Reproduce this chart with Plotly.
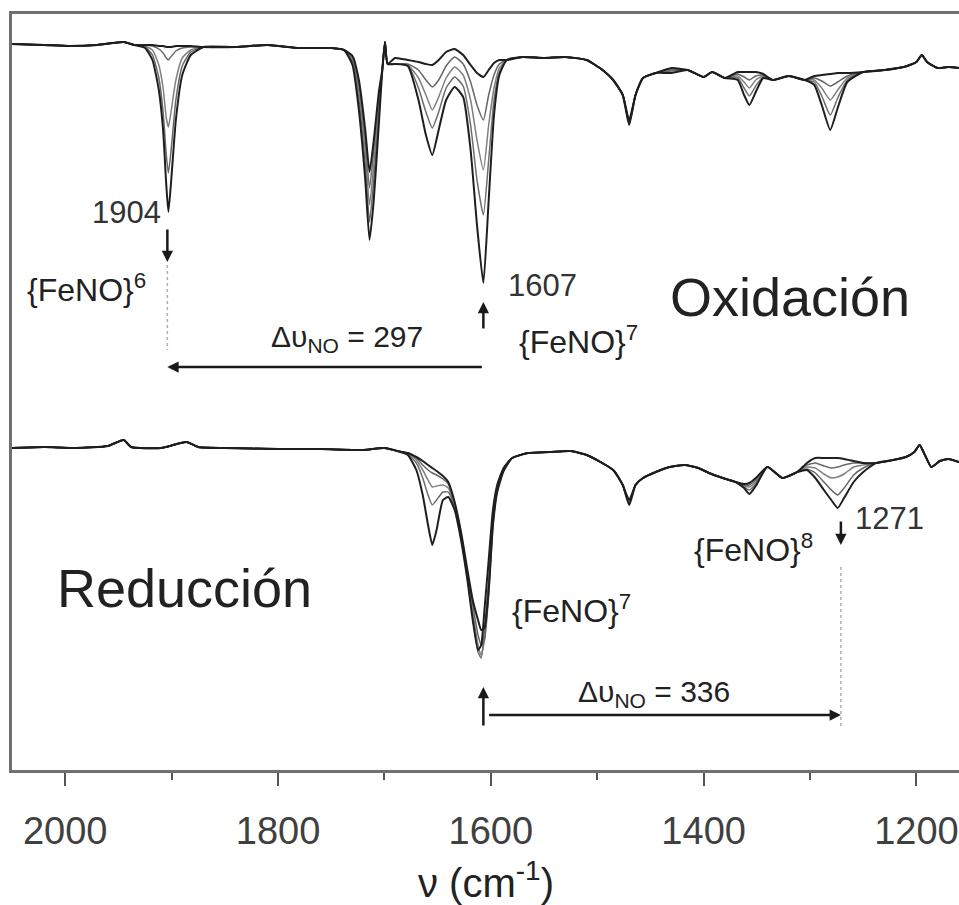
import plotly.graph_objects as go

# ---------------- data (wavenumber in cm-1, transmittance in arbitrary units) -------------
PEAK_FENO6 = 1904
PEAK_FENO7 = 1607
PEAK_FENO8 = 1271

wn_top = [2050, 2020, 1995, 1970, 1945, 1935,
          1925, 1918, 1912, 1908, 1905, 1903, 1900, 1896, 1890, 1882,
          1870, 1840, 1810, 1780, 1750, 1738,
          1730, 1724, 1718, 1714, 1710, 1705,
          1702, 1699.5, 1697,
          1690, 1678, 1668, 1661, 1655, 1649, 1642, 1634, 1626, 1619, 1613, 1607, 1602, 1597, 1592,
          1585, 1570, 1550, 1530, 1510, 1495, 1485, 1476, 1470, 1464, 1457, 1445, 1430, 1415, 1400, 1392, 1380,
          1368, 1362, 1357, 1351, 1344,
          1335, 1320, 1305,
          1296, 1289, 1281, 1274, 1265,
          1250, 1230, 1212, 1200, 1195, 1190, 1180, 1170, 1160]

ox_0 = [726, 725, 724, 725, 728, 725,
        725, 725, 724, 724, 723, 723, 723, 724, 724, 724,
        723, 723, 725, 722, 722, 720,
        714, 690, 640, 598, 630, 680,
        700, 728, 706,
        706, 704, 670, 635, 615, 640, 670, 683, 673, 620, 545, 487, 570, 655, 695,
        710, 713, 712, 713, 710, 700, 690, 675, 645, 675, 692, 697, 702, 700, 693, 698, 692,
        690, 675, 665, 678, 692,
        690, 694, 690,
        685, 665, 640, 662, 688,
        698, 700, 703, 708, 715, 708, 702, 703, 702]
ox_1 = [726, 725, 724, 725, 728, 725,
        725, 724, 721, 717, 712, 710, 714, 719, 722, 723,
        723, 723, 725, 722, 722, 720,
        712, 685, 630, 582, 620, 675,
        700, 728, 706,
        706, 705, 682, 658, 642, 658, 682, 693, 684, 645, 590, 555, 610, 670, 698,
        710, 713, 712, 713, 710, 700, 690, 675, 646, 675, 692, 697, 701, 700, 693, 698, 692,
        692, 682, 674, 684, 693,
        690, 694, 690,
        688, 674, 655, 672, 690,
        698, 700, 703, 708, 715, 708, 702, 703, 702]
ox_2 = [726, 725, 724, 725, 728, 725,
        724, 720, 705, 682, 652, 643, 662, 690, 712, 720,
        723, 723, 725, 722, 722, 720,
        710, 678, 620, 565, 605, 670,
        700, 728, 706,
        706, 705, 692, 675, 660, 673, 692, 703, 695, 670, 630, 600, 645, 682, 702,
        710, 713, 712, 713, 710, 700, 690, 675, 647, 675, 692, 697, 700, 700, 693, 698, 692,
        694, 688, 682, 690, 694,
        690, 694, 690,
        690, 682, 670, 680, 692,
        698, 700, 703, 708, 715, 708, 702, 703, 702]
ox_3 = [726, 725, 724, 725, 728, 725,
        723, 715, 692, 658, 615, 597, 625, 670, 704, 718,
        723, 723, 725, 722, 722, 720,
        708, 670, 605, 548, 590, 660,
        700, 728, 706,
        706, 706, 700, 690, 683, 690, 704, 713, 706, 688, 665, 650, 675, 695, 706,
        710, 713, 712, 713, 710, 700, 690, 675, 648, 675, 692, 697, 699, 700, 693, 698, 692,
        696, 693, 690, 694, 695,
        690, 694, 690,
        692, 689, 684, 688, 694,
        698, 700, 703, 708, 715, 708, 702, 703, 702]
ox_4 = [726, 725, 724, 725, 728, 725,
        722, 710, 680, 640, 585, 558, 595, 650, 695, 715,
        723, 723, 725, 722, 722, 720,
        705, 660, 590, 530, 570, 650,
        700, 728, 706,
        712, 710, 708, 706, 705, 710, 718, 721, 715, 705, 697, 693, 700, 707, 710,
        710, 713, 712, 713, 710, 700, 690, 675, 650, 675, 692, 697, 697, 700, 693, 698, 692,
        698, 698, 698, 698, 696,
        690, 694, 690,
        694, 695, 696, 697, 697,
        698, 700, 703, 708, 715, 708, 702, 703, 702]

wn_bot = [2050, 2020, 1990, 1960, 1945, 1938, 1910, 1886, 1875, 1850, 1800, 1760, 1720, 1700, 1688,
          1678, 1670, 1664, 1659, 1655, 1651, 1645, 1640, 1634, 1628, 1622, 1617, 1612, 1609, 1606,
          1602, 1598, 1594, 1588,
          1580, 1565, 1545, 1525, 1510, 1497, 1485, 1476, 1470, 1464, 1457, 1445, 1432, 1418, 1405,
          1395, 1382,
          1370, 1362, 1357, 1351, 1340, 1326, 1312,
          1303, 1295, 1287, 1280, 1274, 1268, 1259, 1250,
          1238, 1222, 1210, 1202, 1197, 1192, 1186, 1178, 1170, 1160]

red_0 = [322, 323, 322, 324, 330, 323, 322, 328, 323, 322, 321, 321, 320, 322, 319,
         315, 300, 275, 245, 225, 240, 270, 273, 260, 230, 190, 150, 120, 125, 160, 210, 260, 285, 302,
         312, 317, 318, 319, 315, 308, 300, 285, 270, 285, 292, 298, 303, 305, 302, 297, 292,
         288, 282, 276, 284, 303, 292, 298,
         307, 312, 312, 312, 312, 311, 309, 307,
         307, 310, 313, 318, 325, 315, 303, 309, 311, 308]
red_1 = [322, 323, 322, 324, 330, 323, 322, 328, 323, 322, 321, 321, 320, 322, 319,
         316, 307, 292, 275, 265, 270, 278, 278, 262, 232, 192, 152, 118, 112, 140, 190, 255, 283, 301,
         312, 317, 318, 319, 315, 308, 300, 285, 268, 285, 292, 298, 303, 305, 302, 297, 292,
         288, 283, 280, 286, 303, 292, 298,
         305, 307, 304, 302, 303, 305, 307, 307,
         307, 310, 313, 318, 325, 315, 303, 309, 311, 308]
red_2 = [322, 323, 322, 324, 330, 323, 322, 328, 323, 322, 321, 321, 320, 322, 319,
         317, 310, 300, 290, 283, 284, 285, 282, 264, 234, 195, 158, 125, 115, 130, 180, 250, 281, 300,
         312, 317, 318, 319, 315, 308, 300, 285, 267, 285, 292, 298, 303, 305, 302, 297, 292,
         288, 284, 283, 288, 303, 292, 298,
         303, 302, 296, 292, 293, 296, 303, 305,
         307, 310, 313, 318, 325, 315, 303, 309, 311, 308]
red_3 = [322, 323, 322, 324, 330, 323, 322, 328, 323, 322, 321, 321, 320, 322, 319,
         317, 312, 305, 300, 297, 295, 291, 286, 266, 236, 198, 165, 135, 125, 130, 175, 245, 279, 300,
         312, 317, 318, 319, 315, 308, 300, 285, 266, 285, 292, 298, 303, 305, 302, 297, 292,
         288, 285, 285, 290, 303, 292, 298,
         301, 297, 288, 280, 275, 282, 295, 302,
         307, 310, 313, 318, 325, 315, 303, 309, 311, 308]
red_4 = [322, 323, 322, 324, 330, 323, 322, 328, 323, 322, 321, 321, 320, 322, 319,
         317, 313, 309, 305, 302, 299, 294, 288, 268, 238, 200, 170, 150, 140, 142, 180, 245, 278, 299,
         312, 317, 318, 319, 315, 308, 300, 285, 265, 285, 292, 298, 303, 305, 302, 297, 292,
         288, 286, 287, 292, 303, 292, 298,
         300, 292, 280, 270, 262, 272, 288, 298,
         307, 310, 313, 318, 325, 315, 303, 309, 311, 308]

tick_vals = [2000, 1800, 1600, 1400, 1200]
tick_text = ["2000", "1800", "1600", "1400", "1200"]

for s in (ox_0, ox_1, ox_2, ox_3, ox_4):
    assert len(s) == len(wn_top), len(s)
for s in (red_0, red_1, red_2, red_3, red_4):
    assert len(s) == len(wn_bot), len(s)

# ---------------- figure -------------
FONT = "Liberation Sans, Arial, sans-serif"
line_colors = ["#1e1e1e", "#6c6c6c", "#808080", "#666666", "#1e1e1e"]

fig = go.Figure()

order = [2, 1, 3, 0, 4]
for wn, series in ((wn_top, [ox_0, ox_1, ox_2, ox_3, ox_4]),
                   (wn_bot, [red_0, red_1, red_2, red_3, red_4])):
    for i in order:
        fig.add_trace(go.Scatter(
            x=wn, y=series[i], mode="lines",
            line=dict(color=line_colors[i], width=2.0 if i in (0, 4) else 1.5,
                      shape="spline", smoothing=0.5),
            hoverinfo="skip", showlegend=False))

# dotted guide lines
fig.add_trace(go.Scatter(x=[PEAK_FENO6, PEAK_FENO6], y=[505, 420], mode="lines",
                         line=dict(color="#b0b0b0", width=1.5, dash="dot"),
                         hoverinfo="skip", showlegend=False))
fig.add_trace(go.Scatter(x=[PEAK_FENO8, PEAK_FENO8], y=[203, 43], mode="lines",
                         line=dict(color="#b0b0b0", width=1.5, dash="dot"),
                         hoverinfo="skip", showlegend=False))

ann = []

def label(x, y, text, size, xanchor="left", color="#222222"):
    ann.append(dict(x=x, y=y, xref="x", yref="y", text=text, showarrow=False,
                    xanchor=xanchor, yanchor="middle",
                    font=dict(family=FONT, size=size, color=color)))

def arrow(x, y, ax, ay):
    ann.append(dict(x=x, y=y, ax=ax, ay=ay, xref="x", yref="y", axref="x", ayref="y",
                    text="", showarrow=True, arrowhead=2, arrowsize=0.9,
                    arrowwidth=2.5, arrowcolor="#1a1a1a", standoff=0, startstandoff=0))

label(1908, 558, "1904", 31, "right", "#333333")
label(2038, 482, "{FeNO}<sup>6</sup>", 32)
label(1735, 432, "Δυ<sub>NO</sub> = %d" % (PEAK_FENO6 - PEAK_FENO7), 30, "center")
label(1586, 485, "1607", 31, "left", "#333333")
label(1575, 430, "{FeNO}<sup>7</sup>", 32)
label(1433.5, 473, "Oxidación", 54)
label(2009.6, 182, "Reducción", 54)
label(1582, 161, "{FeNO}<sup>7</sup>", 32)
label(1411, 222, "{FeNO}<sup>8</sup>", 32)
label(1259.6, 252, "1271", 31, "left", "#333333")
label(1446.6, 77, "Δυ<sub>NO</sub> = %d" % (PEAK_FENO7 - PEAK_FENO8), 30, "center")

arrow(PEAK_FENO6, 508, PEAK_FENO6, 542)
arrow(PEAK_FENO6, 403, PEAK_FENO7, 403)
arrow(PEAK_FENO7, 468, PEAK_FENO7, 440)
arrow(PEAK_FENO7, 83, PEAK_FENO7, 43)
arrow(PEAK_FENO8, 55, PEAK_FENO7 - 4, 55)
arrow(PEAK_FENO8, 225, PEAK_FENO8, 250)

# axis title
ann.append(dict(x=0.5, y=-0.1455, xref="paper", yref="paper", showarrow=False,
                text="ν (cm<sup>-1</sup>)", xanchor="center", yanchor="middle",
                font=dict(family=FONT, size=40, color="#222222")))

fig.update_layout(
    width=959, height=905,
    margin=dict(l=12, r=0, t=14, b=135),
    paper_bgcolor="white", plot_bgcolor="white",
    annotations=ann,
    showlegend=False,
    xaxis=dict(range=[2050, 1160], tickvals=tick_vals, ticktext=tick_text,
               ticks="outside", ticklen=13, tickwidth=2, tickcolor="#555555",
               minor=dict(dtick=100, tick0=2000, ticks="outside", ticklen=7,
                          tickwidth=2, tickcolor="#555555"),
               showline=True, linecolor="#707070", linewidth=3, mirror=True,
               showgrid=False, zeroline=False, automargin=False,
               tickfont=dict(family=FONT, size=38, color="#404040"),
               ticklabelstandoff=12),
    yaxis=dict(range=[0, 756], showticklabels=False, ticks="",
               showline=True, linecolor="#707070", linewidth=3, mirror=False,
               showgrid=False, zeroline=False, automargin=False),
)

fig.write_html("out.html", config={"displayModeBar": False},
               post_script="document.body.style.margin='0';document.body.style.overflow='hidden';")
